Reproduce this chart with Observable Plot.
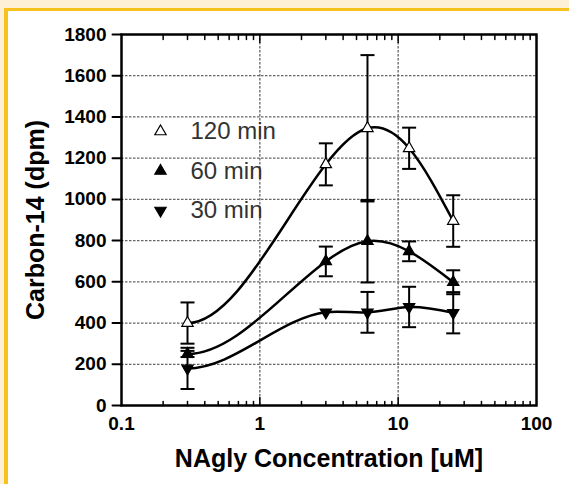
<!DOCTYPE html>
<html><head><meta charset="utf-8">
<script src="https://cdn.jsdelivr.net/npm/d3@7"></script>
<script src="https://cdn.jsdelivr.net/npm/@observablehq/plot@0.6"></script>
<style>
html,body{margin:0;padding:0;width:569px;height:484px;overflow:hidden;background:#fdf0d6;}
#panel{position:absolute;left:4px;top:8px;width:600px;height:500px;background:#fff;border-left:4px solid #f7c21e;border-top:3px solid #f7c21e;}
#chart{position:absolute;left:0;top:0;}
</style></head><body><div id="panel"></div><div id="chart"></div>
<script>
// ---- data ----
const concentrations = [0.3, 3, 6, 12, 25];
const seriesNames = ["120 min", "60 min", "30 min"];
const values120 = [400, 1170, 1345, 1248, 895];
const err120    = [100, 102, 355, 100, 125];
const values60  = [250, 699, 797, 748, 598];
const err60     = [15, 72, 200, 48, 58];
const values30  = [180, 452, 452, 478, 450];
const err30     = [100, 0, 99, 98, 100];
const xTicks = [0.1, 1, 10, 100];
const xTickLabels = ["0.1", "1", "10", "100"];
const yTicks = [0, 200, 400, 600, 800, 1000, 1200, 1400, 1600, 1800];
const yTickLabels = ["0", "200", "400", "600", "800", "1000", "1200", "1400", "1600", "1800"];
const xTitle = "NAgly Concentration [uM]";
const yTitle = "Carbon-14 (dpm)";

const seriesValues = [values120, values60, values30];
const seriesErrors = [err120, err60, err30];
const rows = seriesNames.flatMap((s, j) => concentrations.map((c, i) => ({series: s, x: c, y: seriesValues[j][i], err: seriesErrors[j][i]})));
const barRows = rows.filter(d => d.err > 0);
const minorTicks = [0.1, 1, 10].flatMap(dec => [2,3,4,5,6,7,8,9].map(k => k * dec));
const majorInner = [1, 10];

const markerStyle = {
  "120 min": {fill: "white", rotate: 0},
  "60 min": {fill: "black", rotate: 0},
  "30 min": {fill: "black", rotate: 180}
};

// smooth interpolating cubic spline: flat start, natural end (curve style only)
function clampedSpline(context) {
  let xs, ys;
  return {
    areaStart() {}, areaEnd() {},
    lineStart() { xs = []; ys = []; },
    point(x, y) { xs.push(+x); ys.push(+y); },
    lineEnd() {
      const n = xs.length;
      if (!n) return;
      context.moveTo(xs[0], ys[0]);
      if (n === 1) return;
      if (n === 2) { context.lineTo(xs[1], ys[1]); return; }
      const h = [], s = [];
      for (let i = 0; i < n - 1; i++) { h.push(xs[i + 1] - xs[i]); s.push((ys[i + 1] - ys[i]) / h[i]); }
      const a = new Array(n).fill(0), b = new Array(n).fill(0), c = new Array(n).fill(0), r = new Array(n).fill(0);
      b[0] = 1; r[0] = 0;
      for (let i = 1; i < n - 1; i++) { a[i] = h[i]; b[i] = 2 * (h[i - 1] + h[i]); c[i] = h[i - 1]; r[i] = 3 * (h[i] * s[i - 1] + h[i - 1] * s[i]); }
      a[n - 1] = 1; b[n - 1] = 2; r[n - 1] = 3 * s[n - 2];
      for (let i = 1; i < n; i++) { const w = a[i] / b[i - 1]; b[i] -= w * c[i - 1]; r[i] -= w * r[i - 1]; }
      const m = new Array(n);
      m[n - 1] = r[n - 1] / b[n - 1];
      for (let i = n - 2; i >= 0; i--) m[i] = (r[i] - c[i] * m[i + 1]) / b[i];
      for (let i = 0; i < n - 1; i++) {
        context.bezierCurveTo(xs[i] + h[i] / 3, ys[i] + m[i] * h[i] / 3, xs[i + 1] - h[i] / 3, ys[i + 1] - m[i + 1] * h[i] / 3, xs[i + 1], ys[i + 1]);
      }
    }
  };
}

const capSymbol = {draw(context) { context.moveTo(-7, 0); context.lineTo(7, 0); }};
const tickShape = {draw(context, l) { context.moveTo(0, 0); context.lineTo(0, -l); }};
const font = "'Liberation Sans', Arial, Helvetica, sans-serif";
const gridStyle = {stroke: "#666", strokeOpacity: 1, strokeWidth: 1.3, strokeDasharray: "2.5,1.5"};

const marks = [
  Plot.gridY(yTicks.slice(1, -1), gridStyle),
  Plot.gridX(majorInner, gridStyle),
  Plot.ruleX(barRows, {x: "x", y1: d => d.y - d.err, y2: d => d.y + d.err, stroke: "black", strokeWidth: 2}),
  Plot.dot(barRows, {x: "x", y: d => d.y + d.err, symbol: capSymbol, r: 5, fill: "none", stroke: "black", strokeWidth: 2}),
  Plot.dot(barRows, {x: "x", y: d => d.y - d.err, symbol: capSymbol, r: 5, fill: "none", stroke: "black", strokeWidth: 2}),
  Plot.line(rows, {x: "x", y: "y", z: "series", curve: clampedSpline, stroke: "black", strokeWidth: 2.5})
];
seriesNames.forEach((s, j) => {
  const st = markerStyle[s];
  marks.push(Plot.dot(rows.filter(d => d.series === s), {x: "x", y: "y", symbol: "triangle", r: 4.2, fill: st.fill, stroke: "black", strokeWidth: 1.2, rotate: st.rotate}));
  marks.push(Plot.dot([s], {frameAnchor: "top-left", dx: 39, dy: 97 + j * 39.5, symbol: "triangle", r: 4.2, fill: st.fill, stroke: "black", strokeWidth: 1.2, rotate: st.rotate}));
  marks.push(Plot.text([s], {text: d => d, frameAnchor: "top-left", dx: 69, dy: 97 + j * 39.5, textAnchor: "start", lineAnchor: "middle", fontSize: 24, fontFamily: font, fill: "#333"}));
});
marks.push(
  Plot.frame({stroke: "black", strokeWidth: 2.5}),
  Plot.vector(minorTicks, {x: d => d, frameAnchor: "bottom", length: 4, anchor: "start", shape: tickShape, stroke: "black", strokeWidth: 1.5}),
  Plot.vector(minorTicks, {x: d => d, frameAnchor: "top", length: 5, rotate: 180, anchor: "start", shape: tickShape, stroke: "black", strokeWidth: 1.5}),
  Plot.vector(majorInner, {x: d => d, frameAnchor: "bottom", length: 8, anchor: "start", shape: tickShape, stroke: "black", strokeWidth: 1.5}),
  Plot.vector(majorInner, {x: d => d, frameAnchor: "top", length: 8, rotate: 180, anchor: "start", shape: tickShape, stroke: "black", strokeWidth: 1.5}),
  Plot.vector(yTicks, {y: d => d, frameAnchor: "left", length: 9, rotate: -90, anchor: "start", shape: tickShape, stroke: "black", strokeWidth: 2}),
  Plot.text(yTicks, {y: d => d, text: (d, i) => yTickLabels[i], frameAnchor: "left", dx: -15, textAnchor: "end", lineAnchor: "middle", fontSize: 19, fontWeight: "bold", fontFamily: font, fill: "black"}),
  Plot.text(xTicks, {x: d => d, text: (d, i) => xTickLabels[i], frameAnchor: "bottom", dy: 11, textAnchor: "middle", lineAnchor: "top", fontSize: 19, fontWeight: "bold", fontFamily: font, fill: "black"}),
  Plot.text([xTitle], {text: d => d, frameAnchor: "bottom", dy: 53, textAnchor: "middle", lineAnchor: "middle", fontSize: 25, fontWeight: "bold", fontFamily: font, fill: "black"}),
  Plot.text([yTitle], {text: d => d, frameAnchor: "left", dx: -86, rotate: -90, textAnchor: "middle", lineAnchor: "middle", fontSize: 25, fontWeight: "bold", fontFamily: font, fill: "black"})
);

const chart = Plot.plot({
  width: 569, height: 484,
  marginLeft: 121, marginRight: 33, marginTop: 34, marginBottom: 79,
  style: {background: "none", fontFamily: font, color: "black", overflow: "visible"},
  x: {type: "log", domain: [0.1, 100], axis: null},
  y: {domain: [0, 1800], axis: null},
  marks
});
document.getElementById("chart").appendChild(chart);
</script></body></html>
